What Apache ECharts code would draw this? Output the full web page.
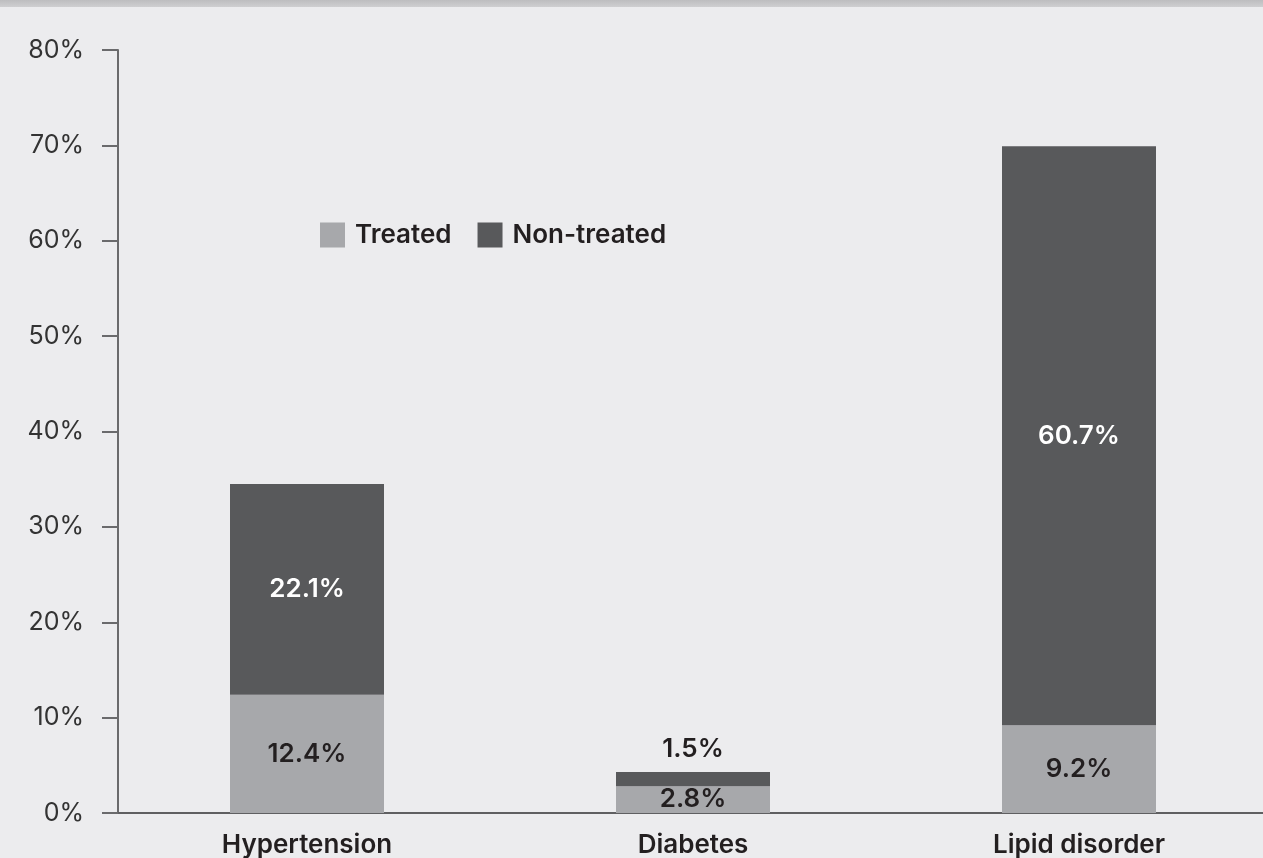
<!DOCTYPE html>
<html>
<head>
<meta charset="utf-8">
<script src="https://cdn.jsdelivr.net/npm/echarts@6/dist/echarts.min.js"></script>
<style>
html,body{margin:0;padding:0;background:#ececee;overflow:hidden;}
#chart{width:1280px;height:858px;}
</style>
</head>
<body>
<div id="chart"></div>
<script>
var categories = ['Hypertension', 'Diabetes', 'Lipid disorder'];
var treated = [12.4, 2.8, 9.2];
var nonTreated = [22.1, 1.5, 60.7];
var yTicks = [0, 10, 20, 30, 40, 50, 60, 70, 80];

var FONT = 'Inter, Lato, sans-serif';
var chart = echarts.init(document.getElementById('chart'));
chart.setOption({
  backgroundColor: '#ececee',
  animation: false,
  graphic: [{
    type: 'rect', left: 0, top: 0,
    shape: {width: 1280, height: 7},
    style: {fill: new echarts.graphic.LinearGradient(0, 0, 0, 1, [{offset: 0, color: '#bdbdbf'}, {offset: 1, color: '#cfcfd1'}])}
  }],
  legend: {
    left: 315, top: 217,
    itemWidth: 25, itemHeight: 25, itemGap: 26,
    icon: 'rect',
    textStyle: {fontFamily: FONT, fontWeight: 600, fontSize: 26, color: '#231f20', padding: [0, 0, 0, 5]},
    data: ['Treated', 'Non-treated']
  },
  grid: {left: 114, top: 50, width: 1158, height: 763},
  xAxis: {
    type: 'category',
    data: categories,
    axisLine: {lineStyle: {color: '#5f5f61', width: 2}},
    axisTick: {show: false},
    axisLabel: {fontFamily: FONT, fontWeight: 600, fontSize: 26, color: '#231f20', margin: 19}
  },
  yAxis: {
    type: 'value',
    min: yTicks[0], max: yTicks[yTicks.length - 1], interval: 10,
    offset: -4,
    splitLine: {show: false},
    axisLine: {show: true, lineStyle: {color: '#6a6a6c', width: 2}},
    axisTick: {show: true, length: 16, lineStyle: {color: '#6a6a6c', width: 2}},
    axisLabel: {fontFamily: FONT, fontSize: 25, color: '#333333', margin: 34, formatter: '{value}%'}
  },
  series: [{
    name: 'Treated', type: 'bar', stack: 'a', barWidth: 154,
    data: treated,
    itemStyle: {color: '#a7a8ab'},
    label: {show: true, position: 'inside', formatter: function(p){return p.value.toFixed(1) + '%';},
      fontFamily: FONT, fontWeight: 600, fontSize: 26, color: '#231f20'}
  }, {
    name: 'Non-treated', type: 'bar', stack: 'a', barWidth: 154,
    data: nonTreated.map(function(v, i){
      if (v < 3) {
        return {value: v, label: {position: 'top', color: '#231f20', distance: 10}};
      }
      return v;
    }),
    itemStyle: {color: '#58595b'},
    label: {show: true, position: 'inside', formatter: function(p){return p.value.toFixed(1) + '%';},
      fontFamily: FONT, fontWeight: 600, fontSize: 26, color: '#ffffff'}
  }]
});
</script>
</body>
</html>
